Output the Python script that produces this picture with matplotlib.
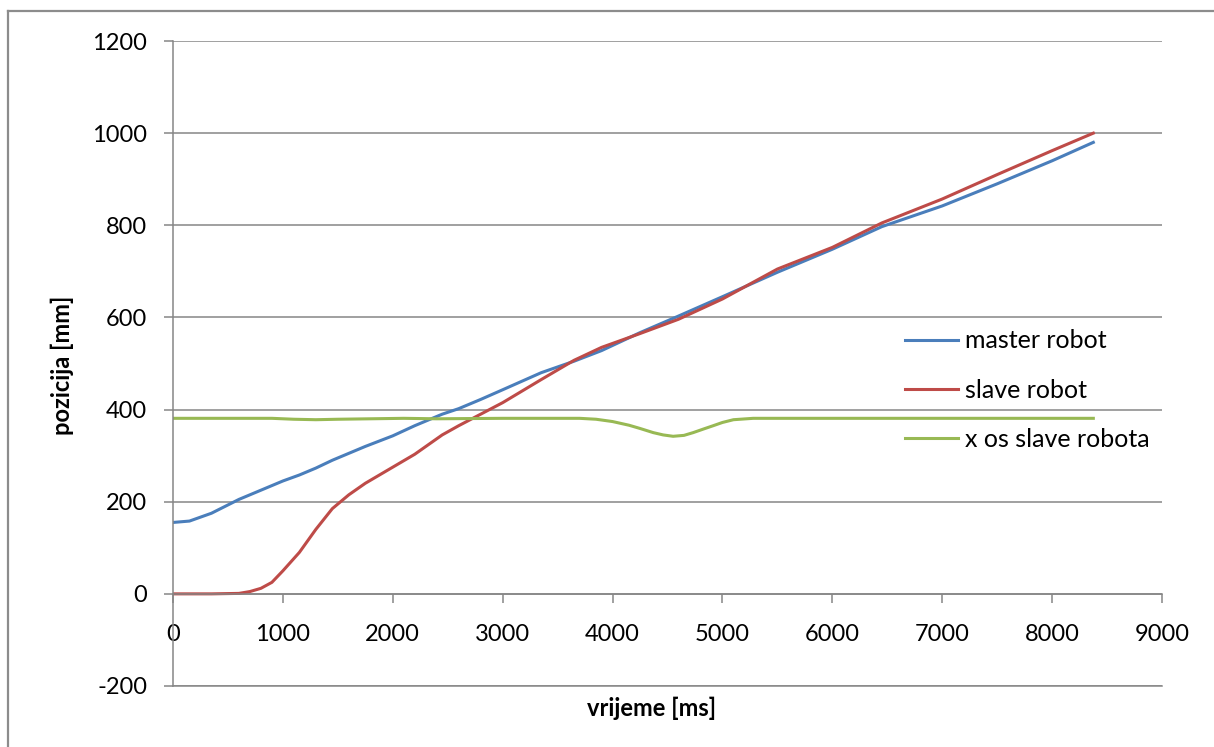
import matplotlib
matplotlib.use('Agg')
import matplotlib.pyplot as plt
from matplotlib.lines import Line2D

plt.rcParams['font.family'] = ['Lato', 'DejaVu Sans']
plt.rcParams['axes.unicode_minus'] = False

# master robot
master_t = [0, 150, 350, 600, 800, 1000, 1150, 1300, 1450, 1600, 1750, 2000,
            2200, 2450, 2600, 2800, 3000, 3350, 3650, 3900, 4250, 4600, 5000,
            5500, 6000, 6450, 7000, 7500, 8000, 8375]
master_y = [155, 158, 175, 205, 225, 245, 258, 273, 290, 305, 320, 343,
            365, 390, 402, 422, 443, 480, 505, 528, 567, 603, 645,
            698, 748, 797, 842, 890, 940, 980]

# slave robot
slave_t = [0, 150, 350, 600, 700, 800, 900, 1000, 1150, 1300, 1450, 1600,
           1750, 2000, 2200, 2450, 2600, 2800, 3000, 3350, 3650, 3900, 4250,
           4600, 5000, 5500, 6000, 6450, 7000, 7500, 8000, 8375]
slave_y = [0, 0, 0, 1, 5, 12, 25, 50, 90, 140, 185, 215,
           240, 275, 303, 345, 365, 390, 415, 465, 507, 535, 565,
           596, 640, 705, 752, 805, 857, 910, 962, 1000]

# x os slave robota
xos_t = [0, 900, 1100, 1300, 1500, 1800, 2100, 2400, 3000, 3700, 3850, 4000,
         4150, 4250, 4370, 4460, 4551, 4650, 4734, 4830, 4916, 5000, 5100,
         5280, 8375]
xos_y = [381, 381, 379, 378, 379, 380, 381, 380, 381, 381, 379, 374,
         366, 359, 350, 345, 342, 344, 350, 358, 365, 372, 378,
         381, 381]

labels = ['master robot', 'slave robot', 'x os slave robota']
colors = ['#4A7EBB', '#BE4B48', '#98B954']
grid_color = '#868686'

fig = plt.figure(figsize=(12.14, 7.47), dpi=100)
ax = fig.add_axes([173 / 1214, 1 - 686 / 747, (1162 - 173) / 1214, (686 - 41) / 747])

ax.plot(master_t, master_y, color=colors[0], lw=2.2)
ax.plot(slave_t, slave_y, color=colors[1], lw=2.2)
ax.plot(xos_t, xos_y, color=colors[2], lw=2.2)

ax.set_xlim(0, 9000)
ax.set_ylim(-200, 1200)
ax.set_xticks(range(0, 9001, 1000))
ax.set_yticks(range(-200, 1201, 200))
ax.yaxis.grid(True, color=grid_color, lw=1.1)
ax.set_axisbelow(True)

for side in ['top', 'right']:
    ax.spines[side].set_visible(False)
ax.spines['bottom'].set_position(('data', 0))
ax.spines['bottom'].set_color(grid_color)
ax.spines['left'].set_color(grid_color)
ax.spines['bottom'].set_linewidth(1.1)
ax.spines['left'].set_linewidth(1.1)
ax.axhline(-200, color=grid_color, lw=1.1, clip_on=False)

ax.tick_params(axis='both', colors=grid_color, labelcolor='black',
               labelsize=17, length=6.5, width=1.1)
ax.tick_params(axis='x', pad=15)
ax.tick_params(axis='y', pad=12)

fig.text(652 / 1214, 1 - 708 / 747, 'vrijeme [ms]', ha='center', va='center',
         fontsize=17, fontweight='bold')
fig.text(62 / 1214, 1 - 365 / 747, 'pozicija [mm]', ha='center', va='center',
         rotation=90, fontsize=17, fontweight='bold')

handles = [Line2D([], [], color=c, lw=2.2) for c in colors]
ax.legend(handles, labels, loc='center left',
          bbox_to_anchor=(905 / 1214, 1 - 390 / 747),
          bbox_transform=fig.transFigure, frameon=False, fontsize=18,
          borderpad=0, borderaxespad=0, handlelength=2.1,
          handletextpad=0.3, labelspacing=1.05)

# outer chart border
fig.add_artist(Line2D([7.5 / 1214, 7.5 / 1214], [0, 1 - 10.5 / 747],
                      transform=fig.transFigure, color='#8c8c8c', lw=1.6))
fig.add_artist(Line2D([7.5 / 1214, 1], [1 - 10.5 / 747, 1 - 10.5 / 747],
                      transform=fig.transFigure, color='#8c8c8c', lw=1.6))

fig.savefig('out.png', dpi=100)
